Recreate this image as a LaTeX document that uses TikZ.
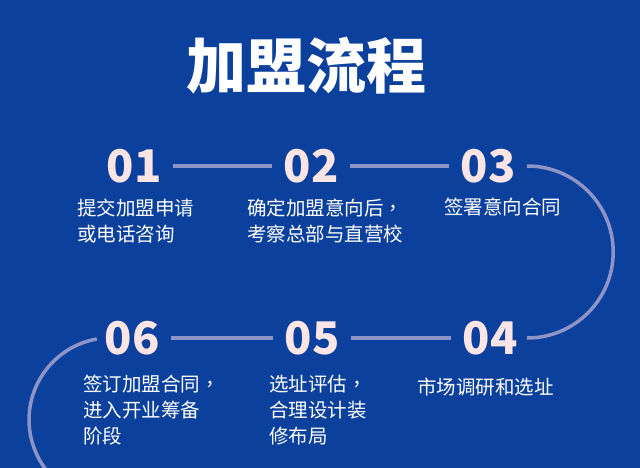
\documentclass[tikz,border=0pt]{standalone}
\usepackage{fontspec}
\newfontfamily\cjk{Noto Sans CJK SC}
\newfontfamily\cjktc{Noto Sans CJK TC}
\newcommand{\zcomma}{{\cjktc ，}}
\usetikzlibrary{calc}
\definecolor{bgblue}{HTML}{0B409C}
\definecolor{pathline}{HTML}{8E94C8}
\definecolor{numpink}{HTML}{FDE5E5}
\tikzset{
  num/.style={text=numpink, font=\cjk\bfseries\fontsize{45}{45}\selectfont, inner sep=0pt, minimum width=78pt},
  desc/.style={text=white, font=\cjk\fontsize{19.5}{26}\selectfont, align=left, anchor=north west, inner sep=0pt},
  link/.style={draw=pathline, line width=3.5pt}
}
\begin{document}
\begin{tikzpicture}[x=1pt,y=1pt]
\useasboundingbox (0,0) rectangle (640,-468);
\fill[bgblue] (0,0) rectangle (640,-468);
\begin{scope}
\clip (0,0) rectangle (640,-468);
% Title
\node[text=white, font=\cjk\bfseries\fontsize{60}{60}\selectfont, inner sep=0pt] (title) at (306,-66) {加盟流程};
% Step numbers, top row
\node[num] (n01) at (134,-166) {01};
\node[num] (n02) at (311,-166) {02};
\node[num] (n03) at (488,-166) {03};
% Step numbers, bottom row
\node[num] (n06) at (132,-338) {06};
\node[num] (n05) at (312,-338) {05};
\node[num] (n04) at (490,-338) {04};
% Straight links
\draw[link] (n01.east) -- (n02.west);
\draw[link] (n02.east) -- (n03.west);
\draw[link] (n06.east) -- (n05.west);
\draw[link] (n05.east) -- (n04.west);
% Turn on the right
\draw[link] (n03.east) arc [start angle=90, end angle=-90, radius=86];
% Arc leaving 06
\draw[link] ($(n06.west)+(4,-1)$) arc [start angle=100, end angle=230, radius=82];
% Descriptions
\node[desc] (d01) at (77,-199) {提交加盟申请\\或电话咨询};
\node[desc] (d02) at (247,-199) {确定加盟意向后\zcomma\\考察总部与直营校};
\node[desc] (d03) at (444,-198) {签署意向合同};
\node[desc] (d06) at (83,-375) {签订加盟合同\zcomma\\进入开业筹备\\阶段};
\node[desc] (d05) at (269,-375) {选址评估\zcomma\\合理设计装\\修布局};
\node[desc] (d04) at (417,-378) {市场调研和选址};
\end{scope}
\end{tikzpicture}
\end{document}
